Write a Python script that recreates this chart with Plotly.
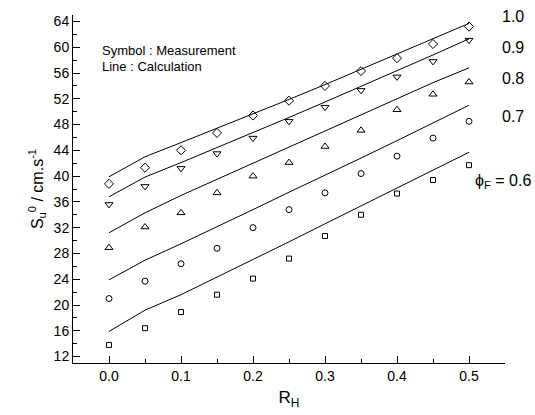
import plotly.graph_objects as go

rh = [0.0, 0.05, 0.10, 0.15, 0.20, 0.25, 0.30, 0.35, 0.40, 0.45, 0.50]
phi_labels = ["1.0", "0.9", "0.8", "0.7", "0.6"]

meas_10 = [38.8, 41.3, 44.0, 46.7, 49.4, 51.7, 54.0, 56.3, 58.3, 60.5, 63.2]
meas_09 = [35.6, 38.4, 41.2, 43.5, 45.9, 48.5, 50.7, 53.3, 55.4, 57.8, 61.1]
meas_08 = [28.9, 32.1, 34.3, 37.4, 40.0, 42.1, 44.6, 47.1, 50.3, 52.7, 54.6]
meas_07 = [21.0, 23.7, 26.4, 28.8, 32.0, 34.8, 37.4, 40.4, 43.1, 45.9, 48.5]
meas_06 = [13.8, 16.4, 18.9, 21.6, 24.1, 27.2, 30.7, 34.0, 37.3, 39.4, 41.7]

calc_10 = [39.9, 43.0, 45.2, 47.4, 49.6, 51.9, 54.2, 56.6, 59.0, 61.4, 63.7]
calc_09 = [36.8, 39.85, 42.1, 44.4, 46.7, 49.1, 51.5, 53.9, 56.4, 58.8, 61.3]
calc_08 = [31.2, 34.3, 37.0, 39.5, 42.0, 44.5, 47.0, 49.5, 52.1, 54.5, 56.8]
calc_07 = [23.9, 26.95, 29.5, 32.1, 34.8, 37.5, 40.1, 42.8, 45.5, 48.2, 51.0]
calc_06 = [15.9, 19.2, 21.6, 24.3, 27.0, 29.8, 32.6, 35.4, 38.2, 41.0, 43.7]

meas = [meas_10, meas_09, meas_08, meas_07, meas_06]
calc = [calc_10, calc_09, calc_08, calc_07, calc_06]
symbols = ["diamond-open", "triangle-down-open", "triangle-up-open", "circle-open", "square-open"]
sizes = [7, 7, 7, 6, 5]

fig = go.Figure()
for c in calc:
    fig.add_trace(go.Scatter(x=rh, y=c, mode="lines",
                             line=dict(color="black", width=1), showlegend=False))
for m, s, sz in zip(meas, symbols, sizes):
    fig.add_trace(go.Scatter(x=rh, y=m, mode="markers",
                             marker=dict(symbol=s, size=sz, color="black",
                                         line=dict(color="black", width=1)),
                             showlegend=False))

font = "Liberation Sans, Arial, sans-serif"

# right-side phi labels
label_y = [64.7, 60.0, 55.1, 49.2]
for lab, yy in zip(phi_labels[:4], label_y):
    fig.add_annotation(x=1.0, xref="paper", xanchor="left", xshift=-5, y=yy,
                       text=lab, showarrow=False,
                       font=dict(family=font, size=16, color="black"))
fig.add_annotation(x=1.0, xref="paper", xanchor="left", xshift=-32, y=39.1,
                   text="ϕ<sub>F</sub> = 0.6", showarrow=False,
                   font=dict(family=font, size=16, color="black"))

fig.add_annotation(x=-0.012, y=59.5, xanchor="left", text="Symbol : Measurement",
                   showarrow=False, font=dict(family=font, size=13, color="black"))
fig.add_annotation(x=-0.012, y=57.0, xanchor="left", text="Line : Calculation",
                   showarrow=False, font=dict(family=font, size=13, color="black"))

fig.update_layout(
    width=535, height=415,
    margin=dict(l=73, r=30, t=15, b=52),
    paper_bgcolor="white", plot_bgcolor="white",
    font=dict(family=font, size=14, color="black"),
    xaxis=dict(range=[-0.05, 0.55], tick0=0, dtick=0.1, tickformat=".1f",
               ticks="inside", ticklen=7, tickcolor="black", showline=True,
               linecolor="black", linewidth=1, showgrid=False, zeroline=False,
               minor=dict(ticks="inside", ticklen=4, dtick=0.05, tickcolor="black", showgrid=False),
               title=dict(text="R<sub>H</sub>", font=dict(size=17), standoff=8)),
    yaxis=dict(range=[11, 65], tick0=12, dtick=4,
               ticks="inside", ticklen=7, tickcolor="black", showline=True,
               linecolor="black", linewidth=1, showgrid=False, zeroline=False,
               minor=dict(ticks="inside", ticklen=4, dtick=2, tickcolor="black", showgrid=False),
               title=dict(text="S<sub>u</sub><sup>0</sup> / cm.s<sup>-1</sup>", font=dict(size=16), standoff=6)),
)

fig.write_html("out.html")
